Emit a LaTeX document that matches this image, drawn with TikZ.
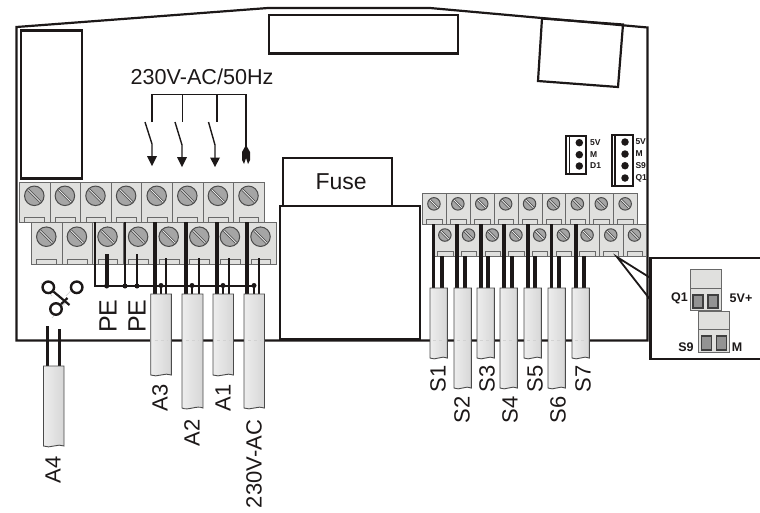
\documentclass[tikz,border=0pt]{standalone}
\usepackage{fontspec}
\setmainfont{Liberation Sans}

\definecolor{cellgray}{RGB}{224,224,222}
\definecolor{edgegray}{RGB}{105,105,105}
\definecolor{screwgray}{RGB}{165,165,165}
\definecolor{linedark}{RGB}{28,24,24}

\tikzset{
    outline/.style={draw=linedark, line width=2.2pt},
    wire/.style={linedark, line width=2.4pt},
    thickwire/.style={linedark, line width=3.6pt},
    cell/.style={rectangle, draw=edgegray, fill=cellgray, line width=0.9pt, inner sep=0pt},
    slot/.style={rectangle, draw=edgegray, fill=cellgray, line width=0.9pt, inner sep=0pt, minimum height=5pt},
    screw/.style={circle, draw=edgegray!70!black, fill=screwgray, line width=1pt, inner sep=0pt},
    sheath/.style={draw=edgegray!70!black, line width=0.9pt, left color=gray!14, middle color=white!98!gray, right color=gray!32},
    cablelabel/.style={font=\fontsize{22}{22}\selectfont, rotate=90, inner sep=0pt, text=linedark},
    pinlabel/.style={font=\bfseries\fontsize{8.5}{8.5}\selectfont, anchor=west, inner sep=0pt, text=linedark},
    insetlabel/.style={font=\bfseries\fontsize{12.5}{12.5}\selectfont, inner sep=0pt, text=linedark},
    pin/.style={circle, fill=linedark, inner sep=0pt, minimum size=7.5pt},
    junction/.style={circle, fill=linedark, inner sep=0pt, minimum size=5pt},
    ring/.style={circle, draw=linedark, line width=2.4pt, fill=white, inner sep=0pt, minimum size=11.5pt},
    faint/.style={gray!35, line width=0.7pt},
    plugtop/.style={rectangle, draw=edgegray, fill=cellgray, line width=0.9pt, inner sep=0pt},
    plughole/.style={rectangle, draw=edgegray!60!black, fill=gray!85, line width=1.2pt, inner sep=0pt}
}

\newcommand{\termrow}[7]{
    \foreach \i in {1,...,#6}{
        \pgfmathsetmacro{\cx}{#2+(\i-1)*#4}
        \pgfmathsetmacro{\mx}{\cx+#4/2}
        \pgfmathsetmacro{\my}{#3+0.35*#5}
        \pgfmathsetmacro{\k}{0.31*#7}
        \node[cell, minimum width=#4pt, minimum height=#5pt, anchor=north west] (#1\i) at (\cx,#3) {};
        \node[slot, minimum width=#4*0.65pt, anchor=south] (#1\i slot) at (#1\i.south) {};
        \node[screw, minimum size=#7pt] (#1\i screw) at (\mx,\my) {};
        \draw[edgegray!60!black, line width=0.7pt, double=white!85!gray, double distance=0.9pt]
            (\mx-\k,\my-\k) -- (\mx+\k,\my+\k);
    }
}

\newcommand{\cablebody}[5]{
    \path[sheath] (#2,#3) -- (#2+#4,#3) -- (#2+#4,#5)
        .. controls (#2+#4*0.7,#5-3) and (#2+#4*0.3,#5+3) .. (#2,#5) -- cycle;
    \draw[faint, dashed] (#2+#4*0.2,340) -- (#2+#4*0.8,340);
    \coordinate (#1) at (#2+#4/2,#5);
}

\begin{document}
\begin{tikzpicture}[x=1pt, y=-1pt]
\useasboundingbox (0,0) rectangle (760,512);

\draw[outline] (647.5,340.5) -- (16.5,340.5) -- (16.5,27) -- (268,8) -- (430,8) -- (647.5,27.5) -- cycle;
\draw[outline] (21,30.5) rectangle (82,178.5);
\draw[outline] (269,15) rectangle (458,53.5);
\draw[outline] (542,18.5) -- (623,24.5) -- (618,87) -- (538,81) -- cycle;

\node[font=\fontsize{21.6}{22}\selectfont, inner sep=0pt, text=linedark] (supply) at (202,77) {230V-AC/50Hz};
\draw[linedark, line width=1.6pt] (151.7,122) -- (151.7,94.3) -- (246,94.3) -- (246,147);
\draw[linedark, line width=1.6pt] (182.3,94.3) -- (182.3,122);
\draw[linedark, line width=1.6pt] (217,94.3) -- (217,122);
\draw[linedark, line width=1.4pt] (145,122) -- (152,144) -- (152,157);
\draw[linedark, line width=1.4pt] (175,122) -- (182,145) -- (182,158);
\draw[linedark, line width=1.4pt] (208.5,122) -- (215,145) -- (215,158);
\fill[linedark] (147,156) -- (157,156) -- (152,166) -- cycle;
\fill[linedark] (177,157) -- (187,157) -- (182,167) -- cycle;
\fill[linedark] (210,157.5) -- (220,157.5) -- (215,167) -- cycle;
\fill[linedark] (246,145) -- (250,152) -- (250,160) -- (248,164) -- (246,158) -- (244,164) -- (242,160) -- (242,152) -- cycle;

\node[outline, fill=white, rectangle, inner sep=0pt, minimum width=109pt, minimum height=48pt, anchor=north west,
    font=\fontsize{23}{23}\selectfont, text=linedark] (fuse) at (282,157) {\hspace{7pt}Fuse};
\node[outline, fill=white, rectangle, inner sep=0pt, minimum width=140pt, minimum height=133pt, anchor=north west] (fusebase) at (278.5,204.5) {};

\termrow{lefttop}{19}{181.7}{30.6}{40.3}{8}{19.5}
\termrow{leftlow}{31}{222}{30.6}{42}{8}{19.5}
\termrow{righttop}{422}{193}{23.9}{31}{9}{12.5}
\termrow{rightlow}{433}{224}{23.7}{31.5}{9}{12.5}

% connectors on the board
\draw[linedark, line width=2pt, fill=white] (566,135.5) rectangle (586,174);
\draw[linedark, line width=1.2pt] (569.5,135.5) -- (569.5,174);
\foreach \n/\y/\t in {1/142.7/5V, 2/154.7/M, 3/166/D1}{
    \node[pin] (headA\n) at (579.3,\y) {};
    \node[pinlabel] (textA\n) at (590,\y) {\t};
}
\draw[linedark, line width=2pt, fill=white] (611.5,135) rectangle (632.5,186);
\draw[linedark, line width=1.2pt] (615,135) -- (615,186);
\foreach \n/\y/\t in {1/142/5V, 2/154/M, 3/165.7/S9, 4/178/Q1}{
    \node[pin] (headB\n) at (625,\y) {};
    \node[pinlabel] (textB\n) at (635.3,\y) {\t};
}

% PE bus and mains wires
\draw[wire] (95,222) -- (95,286) -- (255,286);
\draw[thickwire] (106.7,254) -- (106.7,286);
\draw[wire] (125,222) -- (125,286);
\draw[wire] (137,254) -- (137,286);
\node[junction] (pe1) at (106.7,286) {};
\node[junction] (pe2) at (125,286) {};
\node[junction] (pe3) at (137,286) {};
\foreach \a/\b/\c in {155/166/161, 186/199/192, 217/229/223, 247/259/254}{
    \draw[thickwire] (\a,222) -- (\a,294);
    \draw[wire] (\b,258) -- (\b,294);
    \draw[wire] (\c,286) -- (\c,294);
    \node[junction] (bus\c) at (\c,285.5) {};
}
\foreach \a/\b in {433.5/441.7, 457/465, 481/488, 504/511.7, 528/535, 551.5/559, 576/584}{
    \draw[thickwire] (\a,224) -- (\a,288);
    \draw[thickwire] (\b,256) -- (\b,288);
}

% cables
\cablebody{cA3}{150.7}{294}{20.6}{375}
\cablebody{cA2}{182}{294}{21}{408}
\cablebody{cA1}{213}{294}{20.5}{375}
\cablebody{cAC}{244}{294}{20.5}{408}
\draw[wire] (47.3,326) -- (47.3,366);
\draw[wire] (59.3,329) -- (59.3,366);
\path[sheath] (43.5,366) -- (64,366) -- (64,446) .. controls (58,443) and (50,449) .. (43.5,446) -- cycle;
\foreach \n/\x/\e in {1/430/358, 2/454/388, 3/477/358, 4/500/388, 5/524/358, 6/548/388, 7/572/358}{
    \cablebody{cS\n}{\x}{288}{17.3}{\e}
}

\node[cablelabel] (labA3) at (160,398) {A3};
\node[cablelabel] (labA2) at (192,433) {A2};
\node[cablelabel] (labA1) at (223,398) {A1};
\node[cablelabel] (labAC) at (254,464) {230V-AC};
\node[cablelabel] (labA4) at (53,470) {A4};
\node[cablelabel, font=\fontsize{25}{25}\selectfont] (labPE1) at (108,316) {PE};
\node[cablelabel, font=\fontsize{25}{25}\selectfont] (labPE2) at (137,316) {PE};
\foreach \n/\x/\y in {1/438/379, 2/462/410, 3/487/379, 4/510/410, 5/535/379, 6/558/410, 7/583/379}{
    \node[cablelabel] (labS\n) at (\x,\y) {S\n};
}

% switch symbol
\draw[faint] (41,283) -- (52,296);
\draw[faint] (66,296) -- (80,281);
\draw[faint] (52,318) -- (66,302);
\node[ring] (ringL) at (48.3,287.3) {};
\node[ring] (ringR) at (76.7,287.3) {};
\node[ring] (ringB) at (56,309) {};
\draw[linedark, line width=2.2pt] (ringL) -- (69.5,305);
\draw[linedark, line width=2.2pt] (ringB) -- (67.5,298);

% inset
\fill[white] (650.5,258) rectangle (760,359.5);
\draw[outline] (760,258) -- (650.5,258) -- (650.5,359) -- (760,359);
\draw[linedark, line width=1.8pt] (650.5,278) -- (617,257) -- (650.5,300);

\node[plugtop, minimum width=31pt, minimum height=19pt, anchor=north west] (plugQa) at (690,269) {};
\node[plugtop, minimum width=31pt, minimum height=22pt, anchor=north west] (plugQb) at (690,288) {};
\node[plughole, minimum width=10pt, minimum height=13pt] (holeQa) at (698,301.5) {};
\node[plughole, minimum width=10pt, minimum height=13pt] (holeQb) at (713,301.5) {};
\node[plugtop, minimum width=31pt, minimum height=19pt, anchor=north west] (plugSa) at (698,310.5) {};
\node[plugtop, minimum width=31pt, minimum height=22.5pt, anchor=north west] (plugSb) at (698,329) {};
\node[plughole, minimum width=10pt, minimum height=14pt] (holeSa) at (706.7,343) {};
\node[plughole, minimum width=10pt, minimum height=14pt] (holeSb) at (721.3,343) {};

\node[insetlabel] (labQ) at (679.5,298) {Q1};
\node[insetlabel] (labV) at (741,298) {5V+};
\node[insetlabel] (labS) at (686,347) {S9};
\node[insetlabel] (labM) at (737,347) {M};
\end{tikzpicture}
\end{document}
